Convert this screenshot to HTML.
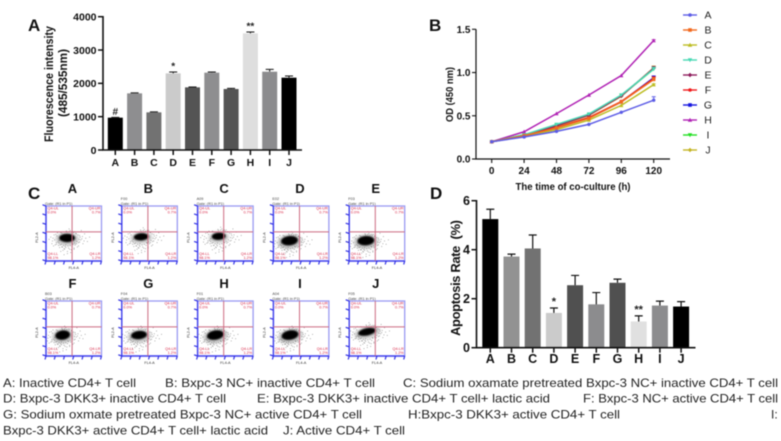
<!DOCTYPE html>
<html lang="en">
<head>
<meta charset="utf-8">
<title>Figure panels A-D</title>
<style>
html,body{margin:0;padding:0;background:#fff;width:781px;height:441px;overflow:hidden}
svg{display:block;font-family:"Liberation Sans",sans-serif;filter:blur(0.4px)}
.b{font-weight:bold;fill:#111}
.cap{font-size:12px;fill:#222}
</style>
</head>
<body>
<svg id="fig" width="781" height="441" viewBox="0 0 781 441" xmlns="http://www.w3.org/2000/svg">
  <defs>
    <filter id="soft" x="-60%" y="-60%" width="220%" height="220%"><feGaussianBlur stdDeviation="0.8"/></filter>
    <filter id="softer" x="-60%" y="-60%" width="220%" height="220%"><feGaussianBlur stdDeviation="1.6"/></filter>
  </defs>
  <text class="b" x="28" y="31" font-size="17">A</text>
  <text class="b" x="429" y="31" font-size="17">B</text>
  <text class="b" x="28" y="199" font-size="17">C</text>
  <text class="b" x="430" y="199" font-size="17">D</text>

  <text class="b" font-size="11.5" transform="translate(53,84) rotate(-90)" text-anchor="middle" textLength="116" lengthAdjust="spacingAndGlyphs">Fluorescence intensity</text>
  <text class="b" font-size="11.5" transform="translate(67,83) rotate(-90)" text-anchor="middle" textLength="68" lengthAdjust="spacingAndGlyphs">(485/535nm)</text>
  <text class="b" font-size="10.5" transform="translate(453,94.5) rotate(-90)" text-anchor="middle" textLength="55" lengthAdjust="spacingAndGlyphs">OD (450 nm)</text>
  <text class="b" font-size="10.5" x="573" y="190" text-anchor="middle" textLength="115" lengthAdjust="spacingAndGlyphs">The time of co-culture (h)</text>
  <text class="b" font-size="13" transform="translate(460,278) rotate(-90)" text-anchor="middle" textLength="116" lengthAdjust="spacing" xml:space="preserve">Apoptosis Rate  (%)</text>

  <g id="caption">
    <text class="cap" x="3" y="387" textLength="133" lengthAdjust="spacingAndGlyphs">A: Inactive CD4+ T cell</text>
    <text class="cap" x="165" y="387" textLength="210" lengthAdjust="spacingAndGlyphs">B: Bxpc-3 NC+ inactive CD4+ T cell</text>
    <text class="cap" x="403" y="387" textLength="375" lengthAdjust="spacingAndGlyphs">C: Sodium oxamate pretreated Bxpc-3 NC+ inactive CD4+ T cell</text>
    <text class="cap" x="3" y="402.5" textLength="223" lengthAdjust="spacingAndGlyphs">D: Bxpc-3 DKK3+ inactive CD4+ T cell</text>
    <text class="cap" x="257" y="402.5" textLength="293" lengthAdjust="spacingAndGlyphs">E: Bxpc-3 DKK3+ inactive CD4+ T cell+ lactic acid</text>
    <text class="cap" x="583" y="402.5" textLength="195" lengthAdjust="spacingAndGlyphs">F: Bxpc-3 NC+ active CD4+ T cell</text>
    <text class="cap" x="3" y="418.5" textLength="359" lengthAdjust="spacingAndGlyphs">G: Sodium oxmate pretreated Bxpc-3 NC+ active CD4+ T cell</text>
    <text class="cap" x="408" y="418.5" textLength="212" lengthAdjust="spacingAndGlyphs">H:Bxpc-3 DKK3+ active CD4+ T cell</text>
    <text class="cap" x="771" y="418.5">I:</text>
    <text class="cap" x="3" y="434.5" textLength="265" lengthAdjust="spacingAndGlyphs">Bxpc-3 DKK3+ active CD4+ T cell+ lactic acid</text>
    <text class="cap" x="283" y="434.5" textLength="122" lengthAdjust="spacingAndGlyphs">J: Active CD4+ T cell</text>
  </g>
</svg>
<script>
// ---- Panel A data ----
var groups = ["A","B","C","D","E","F","G","H","I","J"];
var fluorValues = [970,1700,1130,2300,1880,2320,1830,3500,2350,2170];
var fluorErrors = [10,15,15,40,10,20,20,40,70,50];
var fluorColors = ["#000","#8e8e90","#727272","#cbcbcb","#545454","#8e8e90","#545454","#dedede","#8c8c8e","#000"];
var fluorMarks = ["#","","","*","","","","**","",""];
var fluorTicks = [0,1000,2000,3000,4000];

// ---- Panel B data ----
var hours = [0,24,48,72,96,120];
var odTicks = [0,0.5,1,1.5];
var odA = [0.20,0.255,0.32,0.40,0.54,0.68];
var odB = [0.20,0.27,0.36,0.47,0.66,0.92];
var odC = [0.20,0.265,0.34,0.45,0.62,0.86];
var odD = [0.20,0.28,0.40,0.52,0.74,1.04];
var odE = [0.20,0.275,0.385,0.51,0.73,1.05];
var odF = [0.20,0.27,0.365,0.48,0.665,0.93];
var odG = [0.20,0.27,0.36,0.475,0.66,0.94];
var odH = [0.20,0.315,0.525,0.74,0.965,1.37];
var odI = [0.20,0.28,0.39,0.51,0.735,1.04];
var odJ = [0.20,0.275,0.38,0.505,0.725,1.055];
var odFinalError = [0.04,0.02,0.01,0.02,0.02,0.02,0.02,0.01,0.02,0.02];
var odColors = ["#5c5ce6","#f2691e","#bcbc22","#48d8b4","#8e1c5c","#f01a1a","#1616e0","#b022b4","#22e022","#c4b424"];
var odMarkers = ["circle","square","up","down","diamond","circle","square","up","down","diamond"];

// ---- Panel C data (gate percentages and event-cloud estimates, in plot fractions) ----
var flowIds = ["","F00","A09","E02","F03","B03","F04","F01","A04","F05"];
var cloudX = [0.38,0.35,0.38,0.29,0.30,0.30,0.31,0.32,0.30,0.32];
var cloudY = [0.58,0.56,0.55,0.63,0.63,0.62,0.62,0.62,0.62,0.56];
var cloudW = [0.15,0.14,0.13,0.16,0.16,0.14,0.15,0.16,0.16,0.17];
var cloudH = [0.08,0.07,0.07,0.09,0.09,0.09,0.08,0.09,0.09,0.07];
var cloudTilt = [0,-4,-4,-6,-4,-8,-6,-10,-10,-12];
var gateNames = ["Q4-UL","Q4-UR","Q4-LL","Q4-LR"];
var gateValues = ["0.0%","0.7%","98.1%","1.2%"];
var strayDotX = [-.30,-.27,-.24,-.2,-.33,-.28,-.22,-.16,-.1,-.05,.02,.08,.14,.2,.24,.27,.3,.22,.16,.1,.05,-.02,-.08,-.14,-.18,.28,.33,.12,.18,.06,-.12,.03,.0,.2,.36,.4,.25,.31,-.25,-.06,
  -.23,-.19,-.15,-.11,-.07,-.03,.01,.05,.09,.13,.17,.21,.23,.19,.15,.11,.07,.03,-.01,-.04,-.09,-.13,-.17,-.21,-.26,.26,.12,.04,-.06,-.1,.1,.16,-.2,-.15,.22,.0,.07,-.03,.13,-.12];
var strayDotY = [-.02,.05,-.06,.08,.02,.1,.12,.13,.16,.2,.18,.15,.12,.08,.03,-.03,.05,-.05,-.08,-.12,-.14,-.13,.22,.17,-.1,.1,.0,.2,.16,.26,.24,-.17,.28,.14,.06,-.02,-.14,-.08,.14,.3,
  .03,-.04,.09,.11,.13,.12,.14,.13,.1,.09,.06,.02,-.02,-.06,-.09,-.1,-.11,-.12,-.11,.15,.16,.12,.07,-.07,.0,.01,.18,.2,.19,-.09,.11,.1,.11,.04,.07,.24,.21,.17,-.12,-.1];

// ---- Panel D data ----
var apoptosisValues = [5.25,3.72,4.05,1.42,2.55,1.77,2.65,1.07,1.72,1.68];
var apoptosisErrors = [0.40,0.10,0.55,0.20,0.40,0.48,0.15,0.23,0.18,0.20];
var apoptosisColors = ["#000","#929292","#727272","#cbcbcb","#505050","#8c8c8e","#505050","#e0e0e0","#8c8c8e","#000"];
var apoptosisMarks = ["","","","*","","","","**","",""];
var apoptosisTicks = [0,2,4,6];

var NS = "http://www.w3.org/2000/svg";
var svg = document.getElementById("fig");
function mk(tag, attrs, parent){
  var e = document.createElementNS(NS, tag);
  for (var k in attrs) e.setAttribute(k, attrs[k]);
  (parent || svg).appendChild(e);
  return e;
}
function group(name){
  var g = mk("g", {});
  
  
  return g;
}
function label(parent, x, y, s, size, anchor, fill, weight){
  var t = mk("text", {x:x, y:y, "font-size":size, "text-anchor":anchor, fill:fill, "font-weight":weight}, parent);
  t.textContent = s;
  return t;
}

function barChart(prefix, values, errors, colors, marks, ticks, yMax, o){
  var g = group(prefix + "-chart");
  var y = function(v){ return o.y0 - v / yMax * (o.y0 - o.yTop); };
  var x = function(i){ return o.x0 + i * o.step; };
  values.forEach(function(v, i){
    var bar = mk("rect", {x:x(i)-o.w/2, y:y(v), width:o.w, height:o.y0-y(v), fill:colors[i]}, g);
    
    
    var top = y(v + errors[i]);
    var eb = mk("path", {d:"M"+x(i)+" "+y(v)+"V"+top+"M"+(x(i)-o.cap)+" "+top+"H"+(x(i)+o.cap), stroke:"#111", "stroke-width":o.es, fill:"none"}, g);
    
    
    if (marks[i]) {
      var m = label(g, x(i), top - o.markGap, marks[i], o.markSize, "middle", "#222", "bold");
      
      
    }
    var xl = label(g, x(i), o.xLabelY, groups[i], o.font, "middle", "#111", "bold");
    
    
    mk("line", {x1:x(i), x2:x(i), y1:o.y0, y2:o.y0+5, stroke:"#111", "stroke-width":1.5}, g);
  });
  ticks.forEach(function(t){
    mk("line", {x1:o.axisX-5, x2:o.axisX, y1:y(t), y2:y(t), stroke:"#111", "stroke-width":1.5}, g);
    var yl = label(g, o.axisX-6.5, y(t)+o.font*0.36, String(t), o.font, "end", "#111", "bold");
    
    
  });
  var ax = mk("path", {d:"M"+o.axisX+" "+(o.yTop-0.7)+"V"+o.y0+"H"+o.xEnd, stroke:"#111", "stroke-width":1.6, fill:"none"}, g);
  
  
}

barChart("fluorescence", fluorValues, fluorErrors, fluorColors, fluorMarks, fluorTicks, 4000,
  {x0:115.3, step:19.3, w:15, y0:150, yTop:16.7, cap:4, es:1, axisX:103, xEnd:302, xLabelY:166, font:10.5, markGap:2.5, markSize:10});

barChart("apoptosis", apoptosisValues, apoptosisErrors, apoptosisColors, apoptosisMarks, apoptosisTicks, 6,
  {x0:490.3, step:21.2, w:16, y0:347.7, yTop:200.7, cap:4, es:1.2, axisX:476.5, xEnd:695.5, xLabelY:363, font:12.5, markGap:3, markSize:11});

// ---- Panel B ----
(function(){
  var g = group("od-line-chart");
  var all = [odA,odB,odC,odD,odE,odF,odG,odH,odI,odJ];
  var X = function(h){ return 491.7 + h / 120 * 162; };
  var Y = function(v){ return 159 - v / 1.5 * 129.7; };
  function marker(p, kind, cx, cy, c, s){
    if (kind === "circle") mk("circle", {cx:cx, cy:cy, r:s, fill:c}, p);
    else if (kind === "square") mk("rect", {x:cx-s, y:cy-s, width:2*s, height:2*s, fill:c}, p);
    else {
      var pts = kind === "up" ? [[0,-s-.4],[s+.4,s],[-s-.4,s]] : kind === "down" ? [[0,s+.4],[s+.4,-s],[-s-.4,-s]] : [[0,-s-.4],[s+.4,0],[0,s+.4],[-s-.4,0]];
      mk("polygon", {points:pts.map(function(q){return (cx+q[0])+","+(cy+q[1]);}).join(" "), fill:c}, p);
    }
  }
  for (var i = all.length - 1; i >= 0; i--) (function(i){
    var series = all[i];
    var sg = mk("g", {}, g);
    
    
    mk("polyline", {points:series.map(function(v,k){return X(hours[k])+","+Y(v);}).join(" "), fill:"none", stroke:odColors[i], "stroke-width":1.5}, sg);
    series.forEach(function(v,k){ marker(sg, odMarkers[i], X(hours[k]), Y(v), odColors[i], 1.7); });
    var last = series[series.length-1], xe = X(hours[hours.length-1]);
    mk("path", {d:"M"+xe+" "+Y(last)+"V"+Y(last+odFinalError[i])+"M"+(xe-2)+" "+Y(last+odFinalError[i])+"H"+(xe+2), stroke:odColors[i], "stroke-width":.9, fill:"none"}, sg);
    var ly = 15 + i * 15;
    var le = mk("g", {}, g);
    
    
    mk("line", {x1:683, x2:697, y1:ly, y2:ly, stroke:odColors[i], "stroke-width":1.4}, le);
    marker(le, odMarkers[i], 690, ly, odColors[i], 1.8);
    label(le, 708, ly+3.7, groups[i], 10.5, "middle", "#222", "normal");
  })(i);
  hours.forEach(function(h){
    mk("line", {x1:X(h), x2:X(h), y1:159, y2:163, stroke:"#111", "stroke-width":1.1}, g);
    var t = label(g, X(h), 174, String(h), 10, "middle", "#111", "bold");
    
    
  });
  odTicks.forEach(function(v){
    mk("line", {x1:472, x2:476, y1:Y(v), y2:Y(v), stroke:"#111", "stroke-width":1.1}, g);
    var t = label(g, 470.5, Y(v)+3.6, v.toFixed(1), 10, "end", "#111", "bold");
    
    
  });
  var ax = mk("path", {d:"M476 29.3V159H670", stroke:"#111", "stroke-width":1.2, fill:"none"}, g);
  
  
})();

// ---- Panel C ----
(function(){
  var W = 55.5, H = 55;
  var frameX = function(col){ return 46 + col * 75.8; };
  var frameY = function(row){ return 206 + row * 95; };
  groups.forEach(function(name, i){
    var col = i % 5, row = Math.floor(i / 5);
    var fx = frameX(col), fy = frameY(row);
    var p = mk("g", {});
    
    
    var title = label(p, fx + 26.5, fy - 13, name, 13, "middle", "#111", "bold");
    
    
    label(p, fx - 1, fy - 1.2, "Gate: (R1 in P1)", 3.8, "start", "#444", "normal");
    if (flowIds[i]) label(p, fx - 1, fy - 6, flowIds[i], 3.8, "start", "#444", "normal");
    mk("rect", {x:fx, y:fy, width:W, height:H, fill:"#fff", stroke:"#9a9af2", "stroke-width":1.3}, p);
    mk("path", {d:"M"+fx+" "+fy+"V"+(fy+H)+"H"+(fx+W), fill:"none", stroke:"#4444ee", "stroke-width":1.4}, p);
    for (var t = 0; t < 7; t++) {
      var ty = fy + H - t * H / 6, tx = fx + t * W / 6;
      mk("line", {x1:fx-3.5, x2:fx, y1:ty-1.2, y2:ty, stroke:"#3030e4", "stroke-width":1.2}, p);
      mk("line", {x1:tx, x2:tx-1, y1:fy+H, y2:fy+H+3.5, stroke:"#3030e4", "stroke-width":1.2}, p);
    }
    var cx = fx + cloudX[i] * W, cy = fy + cloudY[i] * H;
    var rx = cloudW[i] * W, ry = cloudH[i] * H;
    var rot = "rotate(" + cloudTilt[i] + " " + cx + " " + cy + ")";
    strayDotX.forEach(function(dx, k){
      mk("rect", {x:cx + dx * W, y:cy + strayDotY[k] * H, width:.65, height:.65, fill:"#555"}, p);
    });
    mk("ellipse", {cx:cx, cy:cy+1, rx:rx*1.35, ry:ry*1.4, fill:"#000", opacity:.28, transform:rot, filter:"url(#softer)"}, p);
    var core = mk("ellipse", {cx:cx, cy:cy, rx:rx*.95, ry:ry*.95, fill:"#000", transform:rot, filter:"url(#soft)"}, p);
    
    
    mk("line", {x1:fx+W*.47, x2:fx+W*.47, y1:fy, y2:fy+H, stroke:"#cc6a80", "stroke-width":1}, p);
    mk("line", {x1:fx, x2:fx+W, y1:fy+H*.47, y2:fy+H*.47, stroke:"#cc6a80", "stroke-width":1}, p);
    var spots = [[1.5,3.5,"start"],[W-1,3.5,"end"],[1.5,H-6,"start"],[W-1,H-6,"end"]];
    spots.forEach(function(s, k){
      label(p, fx+s[0], fy+s[1], gateNames[k], 3.8, s[2], "#d82848", "normal");
      label(p, fx+s[0], fy+s[1]+4, gateValues[k], 3.8, s[2], "#d82848", "normal");
    });
    var yl = label(p, 0, 0, "FL2-A", 3.8, "middle", "#333", "normal");
    yl.setAttribute("transform", "translate(" + (fx-8) + "," + (fy+H/2+4) + ") rotate(-90)");
    label(p, fx + W/2, fy + H + 8, "FL4-A", 3.8, "middle", "#333", "normal");
  });
})();
</script>
</body>
</html>
